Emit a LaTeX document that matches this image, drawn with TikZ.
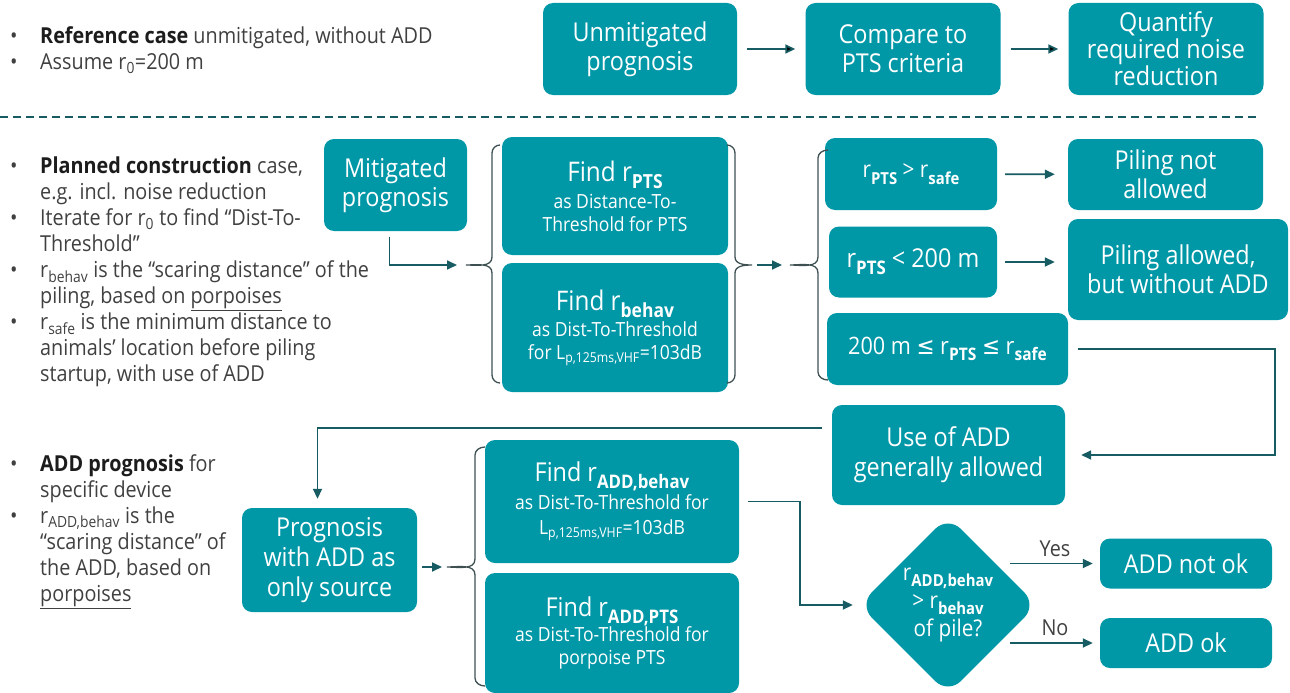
\documentclass[tikz,border=0pt]{standalone}
\usepackage{fontspec}
\setmainfont{Open Sans}[FakeStretch=0.9]
\newfontfamily\symfont{DejaVu Sans}[FakeStretch=0.9]
\usepackage{graphicx}
\usepackage{tikz}
\usetikzlibrary{arrows.meta, positioning, shapes.geometric}

\definecolor{boxteal}{RGB}{0,151,167}
\definecolor{lineteal}{RGB}{24,92,99}
\definecolor{bracegray}{RGB}{62,80,82}
\definecolor{notegray}{RGB}{64,64,64}
\definecolor{notedark}{RGB}{28,28,28}

\newcommand{\bsub}[1]{\raisebox{-0.28em}{\scalebox{0.72}{\textbf{#1}}}}
\newcommand{\nsub}[1]{\textsubscript{#1}}
\newcommand{\leqsym}{{\symfont\char"2264}}
\newcommand{\bul}{\makebox[30pt][l]{\textbullet}}
\newcommand{\ind}{\hspace*{30pt}}
\newcommand{\bigtext}{\fontsize{26}{29}\selectfont}
\newcommand{\smalltext}{\fontsize{19.5}{23}\selectfont}

\begin{document}
\begin{tikzpicture}[x=1pt, y=1pt, node distance=263pt, on grid,
    box/.style={rounded corners=10pt, fill=boxteal, text=white, align=center, inner sep=0pt, font=\bigtext},
    link/.style={draw=lineteal, line width=1.7pt, -{Triangle[length=10pt, width=9pt]}},
    grouping/.style={draw=bracegray, line width=1.3pt},
    notes/.style={anchor=north west, align=left, inner sep=0pt, text=notegray, font=\fontsize{22}{26}\selectfont},
    answer/.style={text=notegray, inner sep=0pt, font=\fontsize{22}{24}\selectfont}]
	% Page frame
	\useasboundingbox (0,0) rectangle (1290,-693);
	% Reference case (top row)
	\node (refnotes) [notes] at (10,-26) {\bul{\color{notedark}\textbf{Reference case}} unmitigated, without ADD\\ \bul Assume r\nsub{0}=200 m};
	\node (unmit) [box, minimum width=194pt, minimum height=92pt] at (640,-49) {Unmitigated\\prognosis};
	\node (compare) [box, minimum width=195pt, minimum height=92pt, right = of unmit] {Compare to\\PTS criteria};
	\node (quant) [box, minimum width=195pt, minimum height=92pt, font=\fontsize{26}{27}\selectfont, right = of compare] {Quantify\\required noise\\reduction};
	% Separator
	\draw [lineteal, line width=1.5pt, dash pattern=on 8pt off 5pt] (0,-117) -- (1258,-117);
	% Planned construction case
	\node (plannotes) [notes] at (10,-157) {\bul{\color{notedark}\textbf{Planned construction}} case,\\ \ind e.g. incl. noise reduction\\ \bul Iterate for r\nsub{0} to find “Dist-To-\\ \ind Threshold”\\ \bul r\nsub{behav} is the “scaring distance” of the\\ \ind piling, based on \underline{porpoises}\\ \bul r\nsub{safe} is the minimum distance to\\ \ind animals’ location before piling\\ \ind startup, with use of ADD};
	\node (mitig) [box, minimum width=143pt, minimum height=92pt] at (395.5,-185) {Mitigated\\prognosis};
	\node (findpts) [box, minimum width=226pt, minimum height=118pt, font=\fontsize{27}{29}\selectfont] at (615,-196) {Find r\bsub{PTS}\\[-2pt] \smalltext as Distance-To-\\[-6pt] \smalltext Threshold for PTS};
	\node (findbehav) [box, minimum width=226pt, minimum height=129pt, font=\fontsize{27}{29}\selectfont] at (615,-327.5) {Find r\bsub{behav}\\[-3pt] \smalltext as Dist-To-Threshold\\[-6pt] \smalltext for L\nsub{p,125ms,VHF}=103dB};
	\node (gtsafe) [box, minimum width=172pt, minimum height=72pt, font=\fontsize{23}{26}\selectfont] at (911,-174) {r\bsub{PTS} > r\bsub{safe}};
	\node (lt200) [box, minimum width=168pt, minimum height=71pt] at (913,-262) {r\bsub{PTS} < 200 m};
	\node (between) [box, minimum width=241pt, minimum height=72pt, font=\fontsize{24}{26}\selectfont] at (947.5,-349) {200 m \leqsym{} r\bsub{PTS} \leqsym{} r\bsub{safe}};
	\node (notallowed) [box, minimum width=195pt, minimum height=71pt] at (1165.5,-174.5) {Piling not\\allowed};
	\node (allowed) [box, minimum width=220pt, minimum height=101pt] at (1178,-269.5) {Piling allowed,\\but without ADD};
	\node (useadd) [box, minimum width=233pt, minimum height=100pt, font=\fontsize{26}{30}\selectfont] at (948.5,-455) {Use of ADD\\generally allowed};
	% ADD prognosis
	\node (addnotes) [notes] at (10,-454) {\bul{\color{notedark}\textbf{ADD prognosis}} for\\ \ind specific device\\ \bul r\nsub{ADD,behav} is the\\ \ind “scaring distance” of\\ \ind the ADD, based on\\ \ind \underline{porpoises}};
	\node (prog) [box, minimum width=175pt, minimum height=104pt, font=\fontsize{26}{30}\selectfont] at (329.5,-560) {Prognosis\\with ADD as\\only source};
	\node (findaddb) [box, minimum width=254pt, minimum height=123pt, font=\fontsize{26}{29}\selectfont] at (612,-501.5) {Find r\bsub{ADD,behav}\\[-1pt] \smalltext as Dist-To-Threshold for\\[-4pt] \smalltext L\nsub{p,125ms,VHF}=103dB};
	\node (findaddp) [box, minimum width=254pt, minimum height=120pt, font=\fontsize{26}{29}\selectfont] at (612,-633) {Find r\bsub{ADD,PTS}\\[-4pt] \smalltext as Dist-To-Threshold for\\[-6pt] \smalltext porpoise PTS};
	\node (decide) [diamond, aspect=1, fill=boxteal, rounded corners=18pt, minimum width=178pt, minimum height=178pt, inner sep=0pt,
		label={[align=center, text=white, font=\fontsize{23}{28}\selectfont]center:r\bsub{ADD,behav}\\> r\bsub{behav}\\of pile?}] at (948,-605) {};
	\node (notok) [box, minimum width=172pt, minimum height=50pt] at (1186,-563.5) {ADD not ok};
	\node (ok) [box, minimum width=172pt, minimum height=50pt] at (1186,-643) {ADD ok};
	% Brace tips
	\coordinate (tipa) at (466,-265);
	\coordinate (tipb) at (752,-265);
	\coordinate (tipc) at (790,-265);
	\coordinate (tipd) at (447,-567);
	\coordinate (turn) at (1275,-349);
	% Braces
	\draw [grouping] (500,-145) to[out=180,in=90] (492,-153) -- (492,-257) to[out=-90,in=0] (tipa)
		to[out=0,in=90] (492,-273) -- (492,-375) to[out=-90,in=180] (500,-383);
	\draw [grouping] (727,-145) to[out=0,in=90] (735,-153) -- (735,-257) to[out=-90,in=180] (tipb)
		to[out=180,in=90] (735,-273) -- (735,-375) to[out=-90,in=0] (727,-383);
	\draw [grouping] (828,-150) to[out=180,in=90] (818,-158) -- (818,-257) to[out=-90,in=0] (tipc)
		to[out=0,in=90] (818,-273) -- (818,-372) to[out=-90,in=180] (828,-380);
	\draw [grouping] (485,-447) to[out=180,in=90] (475,-455) -- (475,-559) to[out=-90,in=0] (tipd)
		to[out=0,in=90] (475,-575) -- (475,-678) to[out=-90,in=180] (485,-686);
	% Arrows
	\path [link, shorten <=10pt, shorten >=10pt]
		(unmit) edge (compare)
		(compare) edge (quant);
	\draw [link, shorten >=9pt] ([xshift=-6pt, yshift=-6pt]mitig.south) |- (tipa);
	\draw [link, shorten <=5pt, shorten >=8pt] (tipb) -- (tipc);
	\draw [link, shorten <=8pt, shorten >=13pt] (gtsafe) -- (notallowed);
	\draw [link, shorten <=8pt, shorten >=13pt] (lt200.east) -- (lt200.east -| allowed.west);
	\draw [link, shorten <=10pt, shorten >=16pt] (between.east) -- (turn) |- (useadd.east);
	\draw [link, shorten <=10pt, shorten >=9pt] ([yshift=27pt]useadd.west) -| ([xshift=-12pt]prog.north);
	\draw [link, shorten <=5pt, shorten >=5pt] (prog.east |- tipd) -- (tipd);
	\draw [link, shorten <=9pt, shorten >=6pt] (findaddb.east) -- ++(61,0) |- (decide.west);
	\draw [link, shorten >=7pt] ([xshift=-27pt]decide.east |- notok.west) -- (notok.west) node [answer, midway, above=6pt] {Yes};
	\draw [link, shorten >=7pt] ([xshift=-27pt]decide.east |- ok.west) -- (ok.west) node [answer, midway, above=6pt] {No};
\end{tikzpicture}
\end{document}
